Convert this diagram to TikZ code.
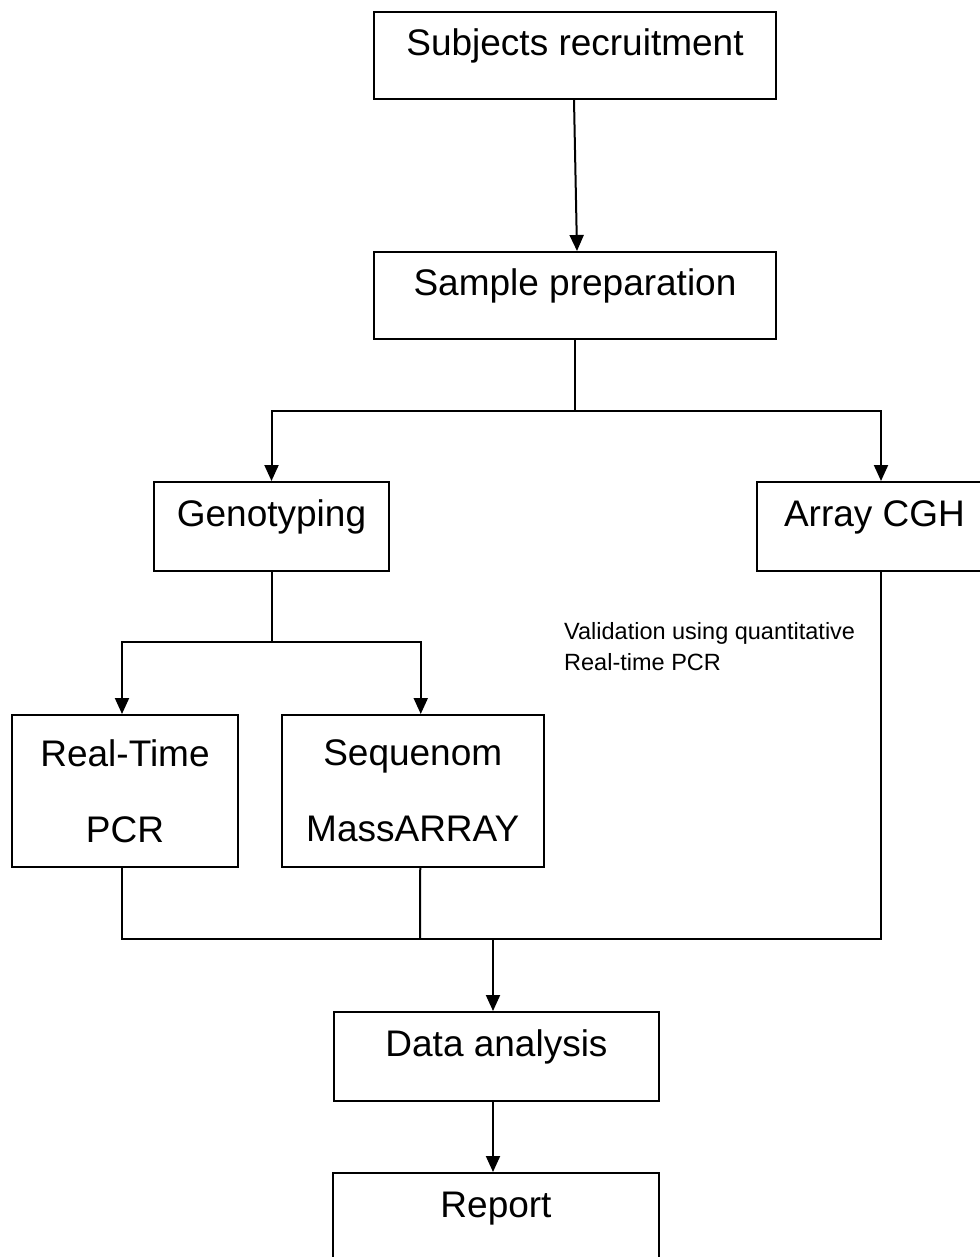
\documentclass[tikz,border=0pt]{standalone}
\usepackage{fontspec}
\setmainfont{Liberation Sans}
\usetikzlibrary{arrows.meta}
\begin{document}
\begin{tikzpicture}[x=1pt,y=-1pt,
  box/.style={draw, line width=2pt, inner sep=0pt, text height=0pt, text depth=0pt,
    font=\fontsize{37}{44}\selectfont},
  tallbox/.style={draw, line width=2pt, inner sep=0pt, align=center,
    font=\fontsize{37}{76}\selectfont},
  conn/.style={line width=2pt},
  arr/.style={line width=2pt, -{Triangle[width=14pt,length=16pt]}},
  note/.style={inner sep=0pt, align=left, font=\fontsize{23.5}{31}\selectfont}]
\useasboundingbox (0,0) rectangle (979,1257);
\fill[white] (0,0) rectangle (979,1257);

\node[box, minimum width=402, minimum height=87] (subj) at (575,55.5) {Subjects recruitment};
\node[box, minimum width=402, minimum height=87] (samp) at (575,295.5) {Sample preparation};
\node[box, minimum width=235, minimum height=89] (geno) at (271.5,526.5) {Genotyping};
\node[box, minimum width=235, minimum height=89] (cgh) at (874.5,526.5) {Array CGH};
\node[tallbox, minimum width=226, minimum height=152] (rt) at (125,791) {Real-Time\\PCR};
\node[tallbox, minimum width=261.5, minimum height=152] (seq) at (412.75,791) {Sequenom\\MassARRAY};
\node[box, minimum width=325, minimum height=89] (data) at (496.5,1056.5) {Data analysis};
\node[box, minimum width=326, minimum height=89] (rep) at (496,1217.5) {Report};

\node[note, anchor=north west] (val) at (564,622.5) {Validation using quantitative\\Real-time PCR};

\coordinate (split1) at (575,411);
\coordinate (split2) at (271.5,642);
\coordinate (jl) at (122,939);
\coordinate (jm) at (420,939);
\coordinate (merge) at (493,939);
\coordinate (jr) at (881,939);

\draw[arr] ([xshift=-1pt]subj.south) -- ([xshift=2pt]samp.north);
\draw[conn] (samp.south) -- (split1);
\draw[arr] (split1) -| (geno.north);
\draw[arr] (split1) -| ([xshift=6.5pt]cgh.north);
\draw[conn] (geno.south) -- (split2);
\draw[arr] (split2) -| ([xshift=-3pt]rt.north);
\draw[arr] (split2) -| ([xshift=8pt]seq.north);
\draw[conn, line join=miter] ([xshift=-3pt]rt.south) -- (jl) -- (jr) -- ([xshift=6.5pt]cgh.south);
\draw[conn] ([xshift=7.5pt]seq.south) -- (jm);
\draw[arr] (merge) -- ([xshift=-3.5pt]data.north);
\draw[arr] ([xshift=-3.5pt]data.south) -- ([xshift=-3pt]rep.north);
\end{tikzpicture}
\end{document}
